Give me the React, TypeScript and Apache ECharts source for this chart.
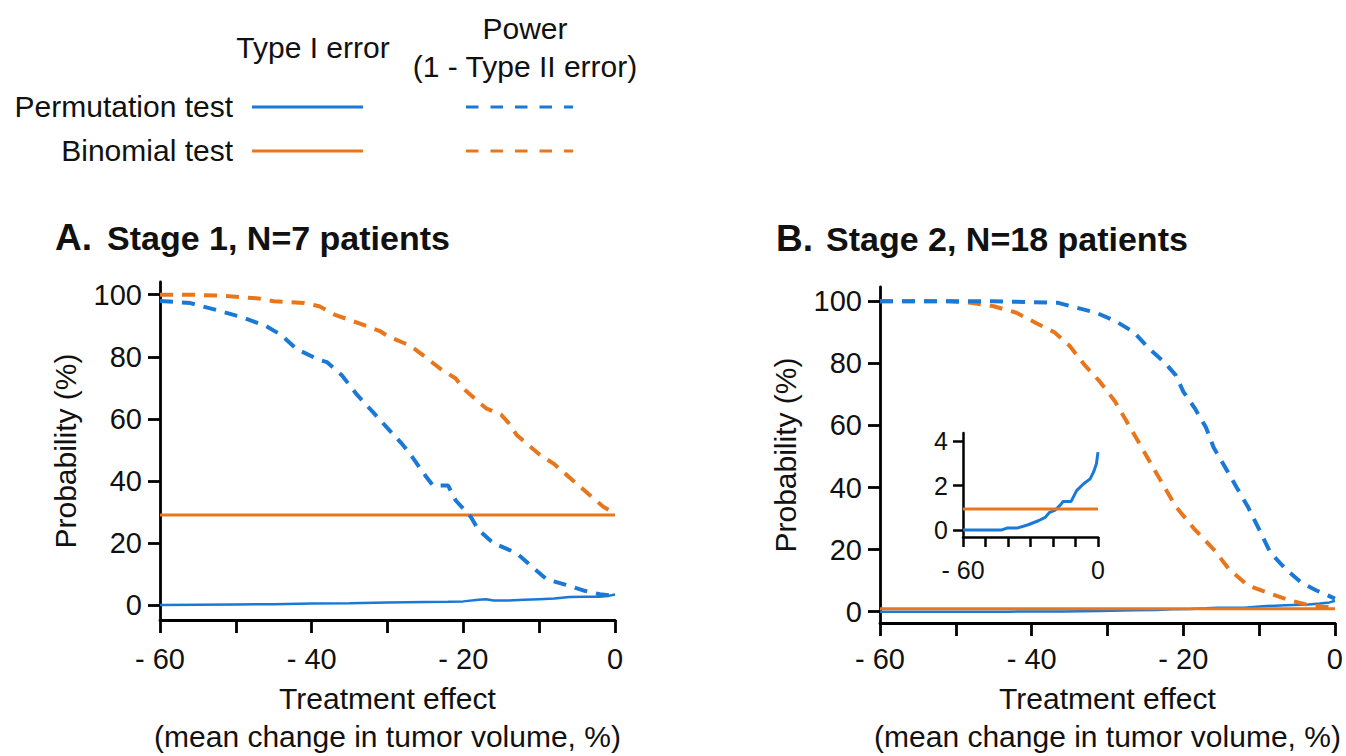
import React, { useEffect, useRef } from 'react';
import * as echarts from 'echarts';

// ---------- tick labels ----------
const xTicksMain = [-60, -40, -20, 0];
const yTicksMain = [0, 20, 40, 60, 80, 100];
const xTicksInset = [-60, 0];
const yTicksInset = [0, 2, 4];

// ---------- Panel A: Stage 1, N=7 ----------
const aPermPowerX = [-60, -56, -52, -49, -46, -44, -42, -39, -38, -36, -34, -32, -30, -28, -27, -25, -24, -22, -21, -19, -18, -16, -13, -11, -9, -6, -4, -2, 0];
const aPermPowerY = [98, 97.3, 94.7, 92.6, 89.9, 87, 82.5, 79, 78.3, 74, 67.7, 62.4, 57, 51.7, 48.6, 41.7, 38.5, 38.5, 33.7, 28.4, 24.2, 19.9, 16.8, 12.5, 8.3, 6.2, 4.6, 3.5, 3];

const aBinPowerX = [-60, -56, -52, -47, -45, -43, -41, -39, -37, -34, -31, -30, -28, -27, -25, -23, -21, -20, -18, -17, -15, -14, -13, -11, -10, -8, -6.5, -5, -3.5, -1.5, 0];
const aBinPowerY = [100, 100, 99.7, 98.8, 97.9, 97.6, 97.3, 96.3, 93.6, 91, 88.3, 86.7, 84.6, 83.6, 79.9, 76.1, 73, 69.8, 65.5, 63.4, 61.3, 58.6, 54.9, 50.7, 48.6, 45.4, 42.2, 39, 35.8, 31.6, 29.5];

const aPermTypeIX = [-60, -55, -50, -45, -40, -35, -30, -25, -22, -20, -18, -17, -16, -14, -12, -10, -8, -6, -4, -2, -1, 0];
const aPermTypeIY = [0, 0.1, 0.2, 0.3, 0.5, 0.6, 0.8, 1.0, 1.1, 1.2, 1.7, 1.9, 1.5, 1.5, 1.7, 1.9, 2.1, 2.6, 2.7, 2.7, 2.9, 3.4];

const aBinTypeIX = [-60, 0];
const aBinTypeIY = [29, 29];

// ---------- Panel B: Stage 2, N=18 ----------
const bPermPowerX = [-60, -45, -36.5, -34, -31.5, -29, -26.5, -24.5, -22.5, -21, -20, -18.5, -17, -16, -14.5, -13, -11.5, -10, -8.5, -6.5, -4.5, -2.5, -1, 0];
const bPermPowerY = [100, 100, 99.5, 97.9, 96.3, 93.7, 90, 84.7, 80.4, 76.2, 70.9, 65.6, 59.3, 52.9, 46.6, 40.2, 33.9, 26.5, 19, 13.8, 9.5, 6.9, 5.3, 4.2];

const bBinPowerX = [-60, -51, -48, -45, -42, -39.5, -37, -35, -33, -31, -29, -27, -25, -23, -21, -18.5, -16, -14, -11.5, -8.5, -6, -3.5, -1.5, 0];
const bBinPowerY = [100, 100, 99.5, 98.4, 96.3, 93.1, 90, 85.7, 79.4, 74.1, 67.7, 59.3, 50.8, 42.3, 33.9, 26.5, 20.1, 13.8, 8.5, 5.8, 3.7, 2.1, 1.6, 1.3];

const bPermTypeIX = [-60, -43, -40.5, -36, -31, -26.5, -23.5, -21.5, -19, -17, -15.5, -12, -9.5, -6.5, -3.5, -2, -0.7, 0];
const bPermTypeIY = [0, 0, 0.09, 0.09, 0.24, 0.42, 0.57, 0.8, 0.9, 1.1, 1.28, 1.28, 1.77, 2.07, 2.3, 2.6, 2.98, 3.5];

const bBinTypeIX = [-60, 0];
const bBinTypeIY = [0.95, 0.95];

// ---------- styles ----------
const BLUE = '#1a78d6';
const ORANGE = '#e8761c';
const FONT = '"Liberation Sans", Arial, Helvetica, sans-serif';
const TXT = '#111';
const DASH = [13, 9];
const AXW = 2.8;

const zip = (xs: number[], ys: number[]) => xs.map((x, i) => [x, ys[i]]);
const fmt = (v: number) => (v < 0 ? '- ' + Math.abs(v) : String(v));

function mainX(gridIndex: number, margin: number, nameGap: number) {
  return {
    type: 'value', gridIndex, min: -60, max: 0, interval: 10,
    axisLine: { show: true, onZero: false, lineStyle: { color: '#000', width: AXW } },
    axisTick: { show: true, length: 13, lineStyle: { color: '#000', width: AXW } },
    axisLabel: { customValues: xTicksMain, formatter: fmt, fontSize: 29, color: TXT, fontFamily: FONT, margin },
    splitLine: { show: false },
    name: 'Treatment effect\n(mean change in tumor volume, %)',
    nameLocation: 'middle', nameGap,
    nameTextStyle: { fontSize: 30, lineHeight: 38, color: TXT, fontFamily: FONT },
  };
}

function mainY(gridIndex: number, min: number, max: number) {
  return {
    type: 'value', gridIndex, min, max,
    axisLine: { show: true, onZero: false, lineStyle: { color: '#000', width: AXW } },
    axisTick: { show: true, customValues: yTicksMain, length: 12, lineStyle: { color: '#000', width: AXW } },
    axisLabel: { customValues: yTicksMain, fontSize: 29, color: TXT, fontFamily: FONT, margin: 18 },
    splitLine: { show: false },
    name: 'Probability (%)', nameLocation: 'middle', nameGap: 80,
    nameTextStyle: { fontSize: 30, color: TXT, fontFamily: FONT },
  };
}

function line(data: number[][], color: string, dashed: boolean, xi: number, width: number) {
  return {
    type: 'line', xAxisIndex: xi, yAxisIndex: xi, data, showSymbol: false, symbol: 'none',
    lineStyle: { color, width, type: dashed ? DASH : 'solid' }, silent: true,
  };
}

export default function App() {
  const ref = useRef<HTMLDivElement>(null);
  useEffect(() => {
    if (!ref.current) return;
    const chart = echarts.init(ref.current, null, { renderer: 'svg' });
    const txt = (text: string, x: number, y: number, size: number, align: string, bold = false) => ({
      type: 'text', x, y,
      style: { text, fontSize: size, fontFamily: FONT, fontWeight: bold ? 'bold' : 'normal', fill: TXT, align, verticalAlign: 'middle' },
    });
    const lg = (x1: number, x2: number, y: number, color: string, dashed: boolean) => ({
      type: 'line', shape: { x1, y1: y, x2, y2: y },
      style: { stroke: color, lineWidth: 3, lineDash: dashed ? [12.5, 12] : null },
    });
    chart.setOption({
      animation: false,
      backgroundColor: '#fff',
      grid: [
        { left: 160, top: 282, width: 455, height: 342 },
        { left: 880, top: 287, width: 456, height: 341 },
        { left: 963, top: 433, width: 135, height: 104 },
      ],
      xAxis: [
        mainX(0, 24, 59),
        mainX(1, 21, 56),
        {
          type: 'value', gridIndex: 2, min: -60, max: 0, interval: 10,
          axisLine: { show: true, onZero: false, lineStyle: { color: '#000', width: 2.5 } },
          axisTick: { show: true, length: 10, lineStyle: { color: '#000', width: 2.5 } },
          axisLabel: { customValues: xTicksInset, formatter: fmt, fontSize: 25, color: TXT, fontFamily: FONT, margin: 20 },
          splitLine: { show: false },
        },
      ],
      yAxis: [
        mainY(0, -4.8, 104.1),
        mainY(1, -3.65, 104.6),
        {
          type: 'value', gridIndex: 2, min: -0.31, max: 4.36,
          axisLine: { show: true, onZero: false, lineStyle: { color: '#000', width: 2.5 } },
          axisTick: { show: true, customValues: yTicksInset, length: 10, lineStyle: { color: '#000', width: 2.5 } },
          axisLabel: { customValues: yTicksInset, fontSize: 25, color: TXT, fontFamily: FONT, margin: 15 },
          splitLine: { show: false },
        },
      ],
      series: [
        line(zip(aPermTypeIX, aPermTypeIY), BLUE, false, 0, 2.5),
        line(zip(aBinTypeIX, aBinTypeIY), ORANGE, false, 0, 3),
        line(zip(aBinPowerX, aBinPowerY), ORANGE, true, 0, 4),
        line(zip(aPermPowerX, aPermPowerY), BLUE, true, 0, 4),
        line(zip(bPermTypeIX, bPermTypeIY), BLUE, false, 1, 2.5),
        line(zip(bBinTypeIX, bBinTypeIY), ORANGE, false, 1, 3),
        line(zip(bBinPowerX, bBinPowerY), ORANGE, true, 1, 4),
        line(zip(bPermPowerX, bPermPowerY), BLUE, true, 1, 4),
        line(zip(bPermTypeIX, bPermTypeIY), BLUE, false, 2, 3),
        line(zip(bBinTypeIX, bBinTypeIY), ORANGE, false, 2, 3),
      ],
      graphic: [
        txt('Type I error', 313, 47, 30, 'center'),
        txt('Power', 525, 28, 30, 'center'),
        txt('(1 - Type II error)', 525, 66, 30, 'center'),
        txt('Permutation test', 233, 106, 30, 'right'),
        txt('Binomial test', 233, 150, 30, 'right'),
        lg(252, 363, 107, BLUE, false),
        lg(252, 363, 151, ORANGE, false),
        lg(466, 573, 107, BLUE, true),
        lg(466, 573, 151, ORANGE, true),
        txt('A.', 55, 237, 37, 'left', true),
        txt('Stage 1, N=7 patients', 107, 238, 34, 'left', true),
        txt('B.', 776, 238, 37, 'left', true),
        txt('Stage 2, N=18 patients', 826, 239, 34, 'left', true),
      ],
    });
    return () => chart.dispose();
  }, []);
  return <div ref={ref} style={{ position: 'absolute', left: 0, top: 0, width: 1346, height: 756, background: '#fff' }} />;
}
